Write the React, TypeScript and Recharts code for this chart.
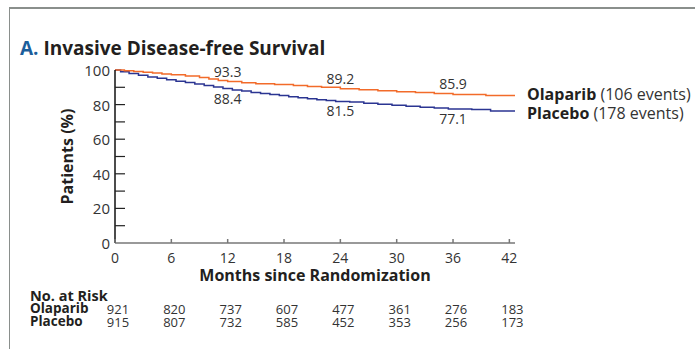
import { LineChart, Line, XAxis, YAxis, ReferenceDot } from "recharts";

const FONT = "'Open Sans', Lato, sans-serif";
const ORANGE = "#F26B2A";
const NAVY = "#2B3592";
const TEXT = "#333";

// Kaplan-Meier steps (months, % event-free)
const olaparibTimes = [0, 1, 2, 3, 4, 5, 6, 7.5, 9, 10, 11, 12, 13.5, 15, 17, 19, 20.5, 22, 24, 26, 28, 30, 32, 34, 36, 39.5, 42.6];
const olaparibSurv = [100, 99.6, 99.2, 98.7, 98.2, 97.7, 97.2, 96.5, 95.7, 94.8, 94.0, 93.3, 92.7, 92.1, 91.6, 91.0, 90.5, 90.0, 89.2, 88.6, 88.0, 87.5, 87.0, 86.4, 85.9, 85.3, 85.3];
const placeboTimes = [0, 0.6, 1.5, 2.5, 3.5, 4.5, 5.5, 6.5, 7.5, 8.5, 9.5, 10.5, 11.5, 12.5, 13.5, 14.5, 15.5, 16.5, 17.5, 18.5, 19.5, 20.5, 21.5, 22.5, 23.5, 25, 26.5, 28, 29.5, 31, 32.5, 34, 35.5, 38, 40, 42.6];
const placeboSurv = [100, 99.0, 98.0, 97.0, 96.0, 95.2, 94.3, 93.5, 92.8, 91.9, 91.0, 90.2, 89.3, 88.4, 87.8, 87.0, 86.4, 85.8, 85.2, 84.6, 84.0, 83.4, 82.8, 82.3, 81.8, 81.5, 80.8, 80.2, 79.6, 79.0, 78.5, 78.0, 77.4, 77.1, 76.3, 76.3];

const xTicks = [0, 6, 12, 18, 24, 30, 36, 42];
const yTicks = [0, 10, 20, 30, 40, 50, 60, 70, 80, 90, 100];

const labelTimes = [12, 24, 36];
const olaparibLabels = [93.3, 89.2, 85.9];
const placeboLabels = [88.4, 81.5, 77.1];

const riskOlaparib = [921, 820, 737, 607, 477, 361, 276, 183];
const riskPlacebo = [915, 807, 732, 585, 452, 353, 256, 173];

const olaparibData = olaparibTimes.map((t, i) => ({ t, s: olaparibSurv[i] }));
const placeboData = placeboTimes.map((t, i) => ({ t, s: placeboSurv[i] }));

function XTick(props: any) {
  const { x, y, payload, index } = props;
  return (
    <g fontFamily={FONT} fill={TEXT}>
      <line x1={x} x2={x} y1={y} y2={y - 4} stroke="#777" strokeWidth={1.5} />
      <text x={x} y={y + 14} textAnchor="middle" dominantBaseline="central" fontSize={14} fill={TEXT}>
        {payload.value}
      </text>
      <text x={x + 3} y={y + 66} textAnchor="middle" dominantBaseline="central" fontSize={13} fill={TEXT}>
        {riskOlaparib[index]}
      </text>
      <text x={x + 3} y={y + 79} textAnchor="middle" dominantBaseline="central" fontSize={13} fill={TEXT}>
        {riskPlacebo[index]}
      </text>
    </g>
  );
}

function YTick(props: any) {
  const { x, y, payload } = props;
  const v = payload.value;
  return (
    <g fontFamily={FONT}>
      {v > 0 && v < 100 && <line x1={x + 5} x2={x + 15} y1={y} y2={y} stroke="#222" strokeWidth={1.2} />}
      {v % 20 === 0 && (
        <text x={x} y={y} textAnchor="end" dominantBaseline="central" fontSize={15} fill={TEXT}>
          {v}
        </text>
      )}
    </g>
  );
}

export default function App() {
  return (
    <div style={{ position: "absolute", left: 0, top: 0, width: 695, height: 349, background: "#fff", fontFamily: FONT, color: TEXT, overflow: "hidden" }}>
      <div style={{ position: "absolute", left: 9, top: 7, right: 0, bottom: -2, borderLeft: "1.5px solid #8a8f8c", borderTop: "2px solid #8a8f8c" }} />
      <div style={{ position: "absolute", left: 20, top: 35, fontSize: 19, fontWeight: 700, color: "#231F20", whiteSpace: "nowrap" }}>
        <span style={{ color: "#1B5E9B" }}>A.</span> Invasive Disease-free Survival
      </div>

      <LineChart
        width={695}
        height={349}
        margin={{ top: 70, right: 180, bottom: 76, left: 75 }}
        style={{ position: "absolute", left: 0, top: 0 }}
      >
        <XAxis
          type="number"
          dataKey="t"
          domain={[0, 42.6]}
          ticks={xTicks}
          allowDataOverflow
          height={30}
          tickSize={0}
          tickMargin={0}
          tick={<XTick />}
          stroke="#777"
          strokeWidth={1.5}
          interval={0}
          label={{
            value: "Months since Randomization",
            position: "insideBottom",
            offset: -8,
            fontSize: 16,
            fontWeight: 700,
            fill: "#231F20",
            fontFamily: FONT,
          }}
        />
        <YAxis
          type="number"
          dataKey="s"
          domain={[0, 100]}
          ticks={yTicks}
          width={40}
          tickSize={0}
          tickMargin={5}
          tick={<YTick />}
          stroke="#111"
          strokeWidth={1.5}
          interval={0}
          label={{
            value: "Patients (%)",
            angle: -90,
            position: "insideLeft",
            offset: -8,
            fontSize: 16,
            fontWeight: 700,
            fill: "#231F20",
            fontFamily: FONT,
            style: { textAnchor: "middle" },
          }}
        />
        <Line data={placeboData} dataKey="s" type="stepAfter" stroke={NAVY} strokeWidth={1.5} dot={false} isAnimationActive={false} />
        <Line data={olaparibData} dataKey="s" type="stepAfter" stroke={ORANGE} strokeWidth={1.5} dot={false} isAnimationActive={false} />
        {labelTimes.map((t, i) => (
          <ReferenceDot
            key={"o" + t}
            x={t}
            y={olaparibLabels[i]}
            r={0}
            stroke="none"
            fill="none"
            label={{ value: olaparibLabels[i].toFixed(1), position: "top", offset: 5, fontSize: 14, fill: TEXT, fontFamily: FONT }}
          />
        ))}
        {labelTimes.map((t, i) => (
          <ReferenceDot
            key={"p" + t}
            x={t}
            y={placeboLabels[i]}
            r={0}
            stroke="none"
            fill="none"
            label={{ value: placeboLabels[i].toFixed(1), position: "bottom", offset: 4, fontSize: 14, fill: TEXT, fontFamily: FONT }}
          />
        ))}
      </LineChart>

      <div style={{ position: "absolute", left: 527, top: 85, fontSize: 16, whiteSpace: "nowrap", lineHeight: "19px" }}>
        <div><b style={{ color: "#231F20" }}>Olaparib</b> (106 events)</div>
        <div><b style={{ color: "#231F20" }}>Placebo</b> (178 events)</div>
      </div>

      <div style={{ position: "absolute", left: 30, top: 289, fontSize: 13.5, fontWeight: 700, color: "#231F20", lineHeight: "13px" }}>
        <div style={{ fontSize: 14.5 }}>No. at Risk</div>
        <div>Olaparib</div>
        <div>Placebo</div>
      </div>
    </div>
  );
}
